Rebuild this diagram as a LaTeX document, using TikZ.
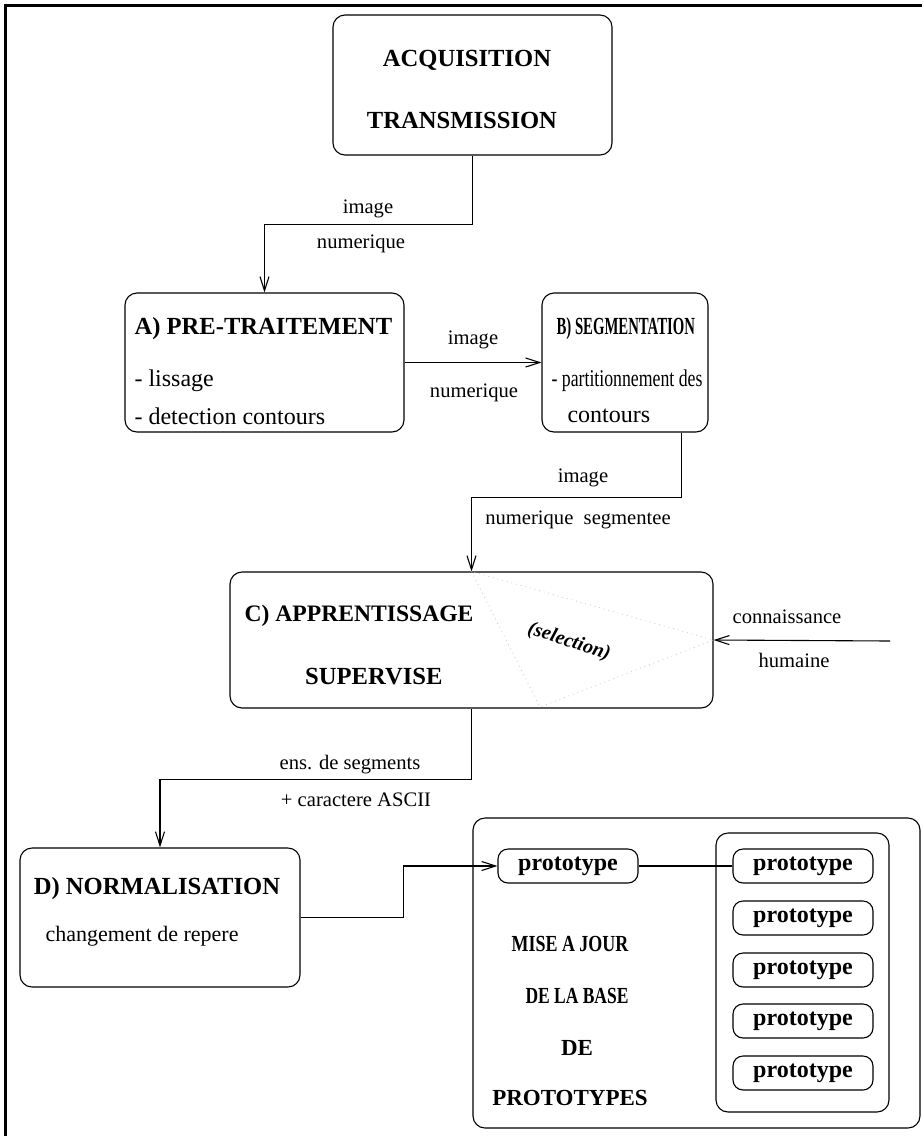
\documentclass[tikz,border=0pt]{standalone}
\usepackage{graphicx}
\usepackage{fontspec}
\setmainfont{Liberation Serif}
\usetikzlibrary{arrows.meta, fit}
\tikzset{
  every picture/.style={x=0.5pt, y=-0.5pt, line width=0.55pt},
  box/.style={draw, rounded corners=6pt, inner sep=0pt},
  pbox/.style={draw, rounded corners=5pt, inner sep=0pt, minimum width=70pt, minimum height=17pt, font=\fontsize{12}{14}\selectfont\bfseries},
  arrow/.style={-{Straight Barb[length=7pt,width=4.5pt]}},
  head/.style={inner sep=0pt, font=\fontsize{12.3}{14}\selectfont\bfseries},
  body/.style={inner sep=0pt, font=\fontsize{12}{14}\selectfont},
  lbl/.style={inner sep=0pt, font=\fontsize{10.3}{12}\selectfont},
  sel/.style={draw=gray!45, dotted, line width=0.4pt},
}

\begin{document}
\begin{tikzpicture}
  \useasboundingbox (0,0) rectangle (922,1136);
  % frame
  \draw[line width=1.5pt] (5,1136) -- (5,5) -- (922,5);
  % acquisition
  \node[box, fit={(333,15) (612,155)}] (acq) {};
  \node[head] (acqa) at (467,60) {ACQUISITION};
  \node[head] (acqb) at (462,120) {TRANSMISSION};
  % A) pre-traitement
  \node[box, fit={(125,293) (404,432)}] (pre) {};
  \node[head, anchor=west] (prea) at (134,329) {A) PRE-TRAITEMENT};
  \node[body, anchor=west] (preb) at (134,381) {- lissage};
  \node[body, anchor=west] (prec) at (134,416) {- detection contours};
  % B) segmentation
  \node[box, fit={(542,293) (708,432)}] (seg) {};
  \node[head, anchor=west] (sega) at (556,329) {\scalebox{0.6}[1]{B) SEGMENTATION}};
  \node[body, anchor=west] (segb) at (551,381) {\scalebox{0.74}[1]{- partitionnement des}};
  \node[body, anchor=west] (segc) at (567,416) {contours};
  % C) apprentissage
  \node[box, fit={(230,572) (713,708)}] (appr) {};
  \node[head, anchor=east, font=\fontsize{11.8}{14}\selectfont\bfseries] (appra) at (474,616) {C) APPRENTISSAGE};
  \node[head, anchor=east] (apprb) at (443,677) {SUPERVISE};
  \coordinate (tb) at (540,707);
  \draw[sel] (appr.north) -- (tb) -- (appr.east) -- cycle;
  \node[inner sep=0pt, font=\fontsize{10}{12}\selectfont\bfseries\itshape, rotate=-18] (selt) at (569,642) {(selection)};
  % D) normalisation
  \node[box, fit={(20,848) (300,987)}] (norm) {};
  \node[head] (norma) at (157,889) {D) NORMALISATION};
  \node[body, anchor=west, font=\fontsize{11}{13}\selectfont] (normb) at (45,936) {changement de repere};
  % mise a jour
  \node[box, fit={(473,818) (920,1128)}] (upd) {};
  \node[box, fit={(716,833) (889,1112)}] (base) {};
  \node[pbox] (p0) at (568,866) {prototype};
  \foreach \i/\y in {1/866, 2/918, 3/970, 4/1021, 5/1073}
    { \node[pbox] (p\i) at (803,\y) {prototype}; }
  \node[head, font=\fontsize{11.5}{14}\selectfont\bfseries] (upda) at (570,944) {\scalebox{0.78}[1]{MISE A JOUR}};
  \node[head, font=\fontsize{11.5}{14}\selectfont\bfseries] (updb) at (577,996) {\scalebox{0.76}[1]{DE LA BASE}};
  \node[head, font=\fontsize{11.5}{14}\selectfont\bfseries] (updc) at (577,1048) {DE};
  \node[head, font=\fontsize{11.5}{14}\selectfont\bfseries] (updd) at (570,1098) {PROTOTYPES};
  % connectors
  \draw[arrow] (acq.south) -- ++(0,69) -| (pre.north);
  \node[lbl] at (368,209) {image};
  \node[lbl] at (361,244) {numerique};
  \draw[arrow] (pre.east) -- (seg.west);
  \node[lbl] at (473,340) {image};
  \node[lbl] at (474,393) {numerique};
  \draw[arrow] (seg.south east) ++(-27,0) -- ++(0,65) -| (appr.north);
  \node[lbl] at (583,478) {image};
  \node[lbl] at (578,520) {numerique~~segmentee};
  \coordinate (know) at (890,641);
  \draw[arrow] (know) -- (appr.east);
  \node[lbl] at (787,617) {connaissance};
  \node[lbl] at (794,660) {humaine};
  \draw[arrow] (appr.south) -- ++(0,71) -| (norm.north);
  \node[lbl] at (350,765) {ens. de segments};
  \node[lbl] at (356,800) {+ caractere ASCII};
  \draw[arrow] (norm.east) -- ++(103,0) |- (p0.west);
  \draw (p0) -- (p1);
\end{tikzpicture}
\end{document}
